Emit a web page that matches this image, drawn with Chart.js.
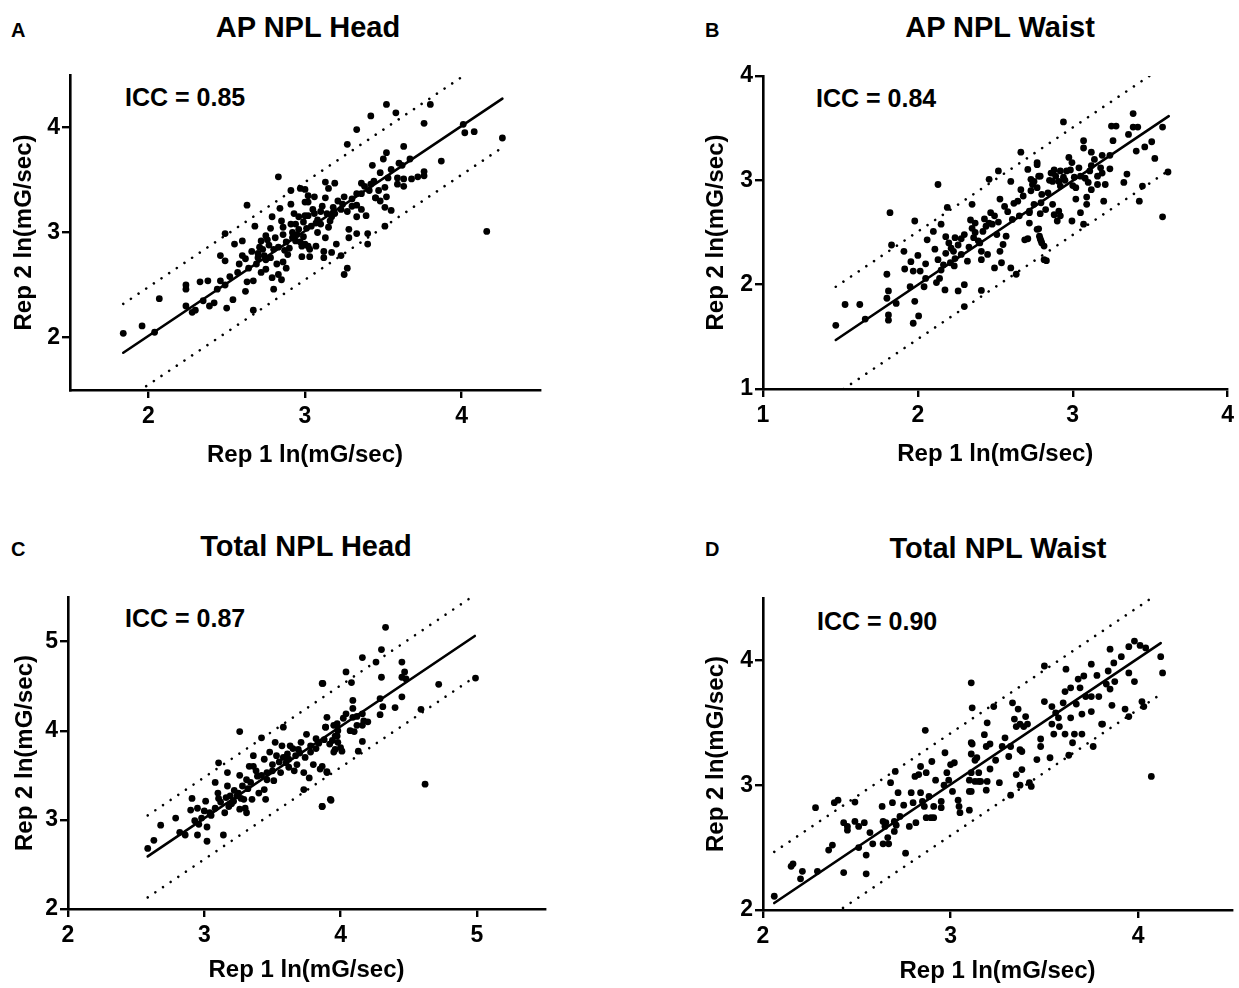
<!DOCTYPE html>
<html>
<head>
<meta charset="utf-8">
<script src="https://cdn.jsdelivr.net/npm/chart.js@4.4.1/dist/chart.umd.min.js"></script>
<style>
  body { margin: 0; background: #fff; width: 1239px; height: 988px; position: relative; overflow: hidden;
         font-family: "Liberation Sans", Arial, sans-serif; color: #000; }
  canvas { position: absolute; }
  .letter { position: absolute; font-weight: bold; font-size: 20px; line-height: 20px; }
  .title  { position: absolute; font-weight: bold; font-size: 29px; line-height: 29px; width: 400px; text-align: center; }
  .icc    { position: absolute; font-weight: bold; font-size: 25px; line-height: 25px; white-space: nowrap; }
</style>
</head>
<body>

<div class="letter" style="left:11px;top:20px">A</div>
<div class="title" style="left:108px;top:13px">AP NPL Head</div>
<div class="icc" style="left:125px;top:85px">ICC = 0.85</div>
<canvas id="chart-a" width="560" height="450" style="left:0;top:50px"></canvas>

<div class="letter" style="left:705px;top:20px">B</div>
<div class="title" style="left:800px;top:13px">AP NPL Waist</div>
<div class="icc" style="left:816px;top:86px">ICC = 0.84</div>
<canvas id="chart-b" width="549" height="450" style="left:690px;top:50px"></canvas>

<div class="letter" style="left:11px;top:539px">C</div>
<div class="title" style="left:106px;top:532px">Total NPL Head</div>
<div class="icc" style="left:125px;top:606px">ICC = 0.87</div>
<canvas id="chart-c" width="560" height="418" style="left:0;top:570px"></canvas>

<div class="letter" style="left:705px;top:539px">D</div>
<div class="title" style="left:798px;top:534px">Total NPL Waist</div>
<div class="icc" style="left:817px;top:609px">ICC = 0.90</div>
<canvas id="chart-d" width="549" height="418" style="left:690px;top:570px"></canvas>

<script>
// === DATA (ln mG/sec, rep 1 vs rep 2) ===

const apHead = [
  [1.84,2.04],[1.96,2.11],[2.04,2.05],[2.07,2.37],[2.24,2.30],[2.24,2.50],[2.24,2.46],[2.28,2.24],[2.30,2.26],
  [2.33,2.53],[2.38,2.54],[2.35,2.35],[2.39,2.30],[2.42,2.33],[2.44,2.46],[2.46,2.54],[2.49,2.50],[2.50,2.28],
  [2.54,2.36],[2.46,2.78],[2.49,2.73],[2.49,2.99],[2.55,2.89],[2.58,2.70],[2.62,2.75],[2.63,2.53],[2.62,2.44],
  [2.67,2.54],[2.67,2.26],[2.63,3.26],[2.68,3.06],[2.60,2.92],[2.66,2.82],[2.72,2.92],[2.73,2.84],[2.75,2.74],
  [2.75,2.65],[2.79,2.57],[2.80,2.46],[2.83,2.60],[2.85,2.55],[2.75,2.97],[2.78,3.04],[2.79,3.15],[2.84,3.23],
  [2.85,3.11],[2.86,2.98],[2.83,2.86],[2.87,2.83],[2.88,2.91],[2.89,2.79],[2.91,3.08],[2.91,3.27],[2.91,3.40],
  [2.97,3.42],[3.00,3.29],[2.93,3.18],[2.96,3.15],[2.95,2.98],[2.97,2.91],[2.98,2.87],[3.01,3.04],[3.02,3.16],
  [3.02,3.35],[2.83,3.53],[3.03,2.84],[2.98,2.77],[2.94,3.08],[2.70,2.80],[2.77,2.88],[2.81,2.95],[2.86,3.05],
  [2.92,2.95],[2.69,2.70],[2.72,2.62],[2.57,2.62],[2.52,2.58],
  [2.70,2.76],[2.74,2.78],[2.78,2.76],[2.71,2.86],[2.76,2.93],[2.80,2.84],[2.82,2.70],[2.86,2.72],[2.88,2.66],
  [2.90,2.85],[2.92,3.00],[2.94,2.92],[2.96,3.03],[2.99,3.10],[2.99,2.96],[3.05,3.22],[3.08,3.12],[3.10,3.20],
  [3.14,3.18],[3.18,3.24],[3.21,3.30],[3.25,3.34],[3.27,3.20],[3.30,3.25],[3.38,3.44],[3.42,3.46],[3.47,3.40],
  [3.55,3.60],[2.64,2.66],[2.60,2.78],
  [3.52,4.22],[3.42,4.11],[3.58,4.14],[3.80,4.22],[3.76,4.04],[3.33,3.98],[3.27,3.84],[3.63,3.82],[3.52,3.76],
  [3.50,3.70],[3.43,3.64],[3.60,3.66],[3.62,3.64],[3.67,3.70],[3.48,3.57],[3.44,3.49],[3.53,3.52],[3.59,3.52],
  [3.63,3.51],[3.68,3.51],[3.72,3.53],[3.76,3.58],[3.76,3.54],[3.59,3.46],[3.63,3.44],[3.51,3.43],[3.52,3.34],
  [3.45,3.33],[3.48,3.30],[3.51,3.24],[3.55,3.21],[3.51,3.06],[3.87,3.68],[4.01,4.03],[4.02,3.95],[4.08,3.96],
  [4.26,3.90],[4.16,3.01],[3.36,3.47],[3.33,3.37],[3.30,3.32],[3.24,3.27],[3.23,3.22],[3.18,3.19],[3.17,3.15],
  [3.36,3.22],[3.39,3.16],[3.33,3.15],[3.41,3.40],[3.40,2.99],[3.40,2.89],[3.28,3.03],[3.28,2.95],[3.33,2.99],
  [3.23,2.78],[3.27,2.66],[3.25,2.60],[3.20,2.89],[3.17,2.81],[3.13,2.95],[3.12,2.82],[3.12,2.76],[3.07,2.87],
  [3.03,2.77],[3.02,2.87],[3.08,3.00],[3.10,3.08],[3.15,3.05],[3.16,3.11],[3.19,3.18],[3.06,3.18],[3.07,3.09],
  [3.04,3.06],[3.02,3.29],[3.13,3.48],[3.15,3.42],[3.19,3.47],[3.13,3.33],[3.11,3.25],[3.06,3.34],[3.00,3.41],
  [3.00,3.16],[3.00,2.89],[3.36,3.37],[3.45,3.33],[3.33,3.26]
];

const apWaist = [
  [1.47,1.61],[1.53,1.81],[1.625,1.81],[1.66,1.67],[1.80,2.10],[1.82,2.69],[1.83,2.38],[1.81,1.94],[1.80,1.87],
  [1.81,1.71],[1.81,1.66],[1.86,1.82],[1.91,2.32],[1.915,2.15],[1.955,2.22],[1.97,2.13],[1.98,2.61],[1.98,1.84],
  [2.005,1.70],[1.97,1.63],[2.015,2.13],[1.95,1.98],[2.05,2.06],[2.04,1.98],[2.06,2.43],[2.10,2.51],[2.13,2.96],
  [2.11,2.34],[2.13,2.24],[2.12,2.02],[2.14,2.06],[2.15,2.14],[2.165,2.19],[2.15,2.58],[2.19,2.74],[2.18,2.46],
  [2.175,1.95],[2.215,2.35],[2.21,2.21],[2.23,2.32],[2.24,2.25],[2.235,2.18],[2.24,2.45],[2.26,1.94],[2.28,2.29],
  [2.30,2.00],[2.30,1.79],[2.32,2.225],[2.30,2.48],[2.35,2.77],[2.34,2.62],[2.37,2.59],[2.36,2.45],[2.39,2.42],
  [2.37,2.50],[2.41,2.24],[2.41,1.945],[2.42,2.51],[2.41,2.32],[2.44,2.56],[2.45,2.29],[2.46,2.59],[2.47,2.69],
  [2.495,2.66],[2.46,3.01],[2.52,3.09],[2.51,2.48],[2.495,2.16],[2.53,2.32],[2.54,2.21],[2.55,2.385],[2.53,2.82],
  [2.56,2.75],[2.57,2.465],[2.60,2.99],[2.60,2.16],[2.635,2.10],[2.61,2.625],[2.645,2.80],[2.655,2.66],
  [2.665,2.91],[2.665,3.27],[2.71,3.105],[2.72,2.69],[2.73,3.01],[2.77,3.17],[2.77,2.93],[2.78,3.04],[2.77,2.53],
  [2.785,2.465],[2.795,2.42],[2.815,2.24],[2.795,2.785],[2.72,2.59],[2.69,2.43],
  [2.18,2.30],[2.20,2.40],[2.26,2.38],[2.28,2.44],[2.33,2.36],[2.35,2.54],[2.40,2.40],[2.43,2.63],[2.48,2.58],
  [2.52,2.60],[2.58,2.70],[2.62,2.78],[2.68,2.85],[2.85,3.00],[2.88,3.10],[2.95,3.00],[3.00,2.95],[3.04,3.12],
  [3.08,3.02],[3.14,3.20],[3.18,3.12],[2.05,2.20],[2.00,2.28],
  [2.94,3.56],[3.39,3.64],[3.25,3.52],[3.28,3.52],[3.39,3.51],[3.42,3.51],[3.58,3.51],[3.36,3.44],[3.26,3.38],
  [3.07,3.38],[3.07,3.31],[3.12,3.27],[3.19,3.24],[3.24,3.24],[3.41,3.28],[3.465,3.32],[3.51,3.37],[3.53,3.21],
  [3.615,3.08],[3.58,2.65],[3.45,2.945],[3.43,2.80],[3.35,3.06],[3.33,2.98],[3.24,3.11],[3.21,2.96],[3.20,2.80],
  [3.19,3.07],[3.16,3.04],[3.16,2.96],[3.12,2.91],[3.12,3.14],[3.11,3.09],[3.10,2.98],[3.09,2.84],[3.09,2.77],
  [3.07,2.58],[3.05,2.69],[3.05,3.04],[3.02,2.82],[3.02,2.93],[2.995,2.61],[3.01,3.03],[2.985,3.10],[2.975,3.22],
  [2.995,3.17],[2.96,3.09],[2.94,3.03],[2.92,3.09],[2.91,2.99],[2.92,2.945],[2.89,3.04],[2.87,2.99],[2.86,3.07],
  [2.84,2.88],[2.87,2.77],[2.88,2.67],[2.91,2.705],[2.90,2.61],[2.92,2.66],[2.825,2.72],[2.80,2.865],[2.79,3.04],
  [2.77,3.15],[2.75,2.99],[2.74,2.96],[2.73,2.90],[2.75,2.77],[2.72,2.705],[2.79,2.68],[2.78,2.535],[2.71,2.44],
  [2.79,2.44],[2.80,2.40],[2.815,2.37],[2.83,2.23]
];

const totalHead = [
  [2.585,2.68],[2.63,2.77],[2.68,2.94],[2.79,3.02],[2.82,2.86],[2.86,2.83],[2.90,3.11],[2.91,3.24],[2.93,2.99],
  [2.95,3.13],[2.95,2.83],[2.98,3.02],[3.01,3.21],[3.02,2.92],[3.02,2.76],[3.04,3.08],[3.08,3.42],[3.08,3.13],
  [3.105,3.64],[3.105,3.24],[3.14,2.83],[3.15,3.08],[3.17,3.53],[3.17,3.38],[3.18,3.15],[3.19,3.27],[3.215,3.21],
  [3.24,3.27],[3.25,3.30],[3.26,3.99],[3.28,3.38],[3.26,3.12],[3.29,3.23],[3.30,3.13],[3.31,3.45],[3.31,3.08],
  [3.33,3.60],[3.35,3.23],[3.36,3.72],[3.39,3.49],[3.40,3.30],[3.42,3.92],[3.44,3.34],[3.45,3.23],[3.46,3.53],
  [3.48,3.76],[3.50,3.62],[3.51,3.44],[3.52,3.87],[3.53,3.72],[3.56,3.53],[3.57,3.83],[3.58,4.04],[3.60,3.64],
  [3.61,3.74],[3.62,3.59],[3.63,3.83],[3.66,3.55],[3.67,3.72],[3.69,3.79],[3.71,3.87],[3.73,3.53],[3.73,3.34],
  [3.75,3.96],[3.77,3.47],[3.78,3.83],[3.80,3.62],[3.82,3.91],[3.85,3.57],[3.865,3.15],[3.865,4.53],[3.89,4.04],
  [3.90,3.53],[3.925,3.23],
  [3.12,3.20],[3.16,3.25],[3.20,3.18],[3.22,3.33],[3.27,3.24],[3.32,3.35],[3.34,3.42],[3.38,3.55],[3.42,3.50],
  [3.46,3.45],[3.50,3.55],[3.55,3.65],[3.58,3.70],[3.62,3.68],[3.65,3.80],[3.68,3.62],[3.70,3.75],[3.74,3.70],
  [3.78,3.76],[3.82,3.80],[3.84,3.86],[3.88,3.90],[3.92,3.85],[3.05,3.05],[3.00,3.10],[2.96,2.95],[3.10,3.30],
  [3.26,3.50],[3.36,3.60],[3.44,3.68],
  [4.33,5.16],[4.30,4.91],[4.16,4.82],[4.26,4.77],[4.45,4.77],[4.47,4.66],[4.45,4.60],[4.48,4.58],[4.30,4.60],
  [4.04,4.66],[4.08,4.54],[3.87,4.53],[4.72,4.52],[4.99,4.59],[4.45,4.38],[4.29,4.36],[4.40,4.26],[4.31,4.27],
  [4.29,4.18],[4.09,4.34],[4.09,4.25],[4.04,4.19],[4.02,4.14],[4.09,4.15],[4.12,4.16],[4.16,4.19],[4.17,4.11],
  [4.20,4.10],[4.16,4.06],[3.90,4.15],[3.89,4.04],[3.97,4.06],[3.98,4.00],[4.12,4.06],[4.07,4.00],[4.10,3.99],
  [3.96,3.94],[3.94,3.89],[3.98,3.87],[3.96,3.79],[4.00,3.81],[3.95,3.76],[4.01,3.77],[4.16,3.88],[4.13,3.77],
  [4.59,4.24],[3.865,3.60],[3.90,3.54],[4.62,3.40],[3.93,3.22],[3.865,3.15],[3.95,4.06],[3.975,3.94],[3.975,4.08]
];

const totalWaist = [
  [2.06,2.11],[2.15,2.35],[2.16,2.37],[2.20,2.25],[2.21,2.31],[2.28,2.82],[2.29,2.31],[2.35,2.48],[2.37,2.52],
  [2.38,2.86],[2.40,2.88],[2.43,2.30],[2.43,2.70],[2.45,2.64],[2.45,2.67],[2.49,2.865],[2.49,2.71],[2.51,2.67],
  [2.54,2.70],[2.51,2.50],[2.55,2.44],[2.55,2.29],[2.57,2.62],[2.585,2.53],[2.635,2.83],[2.64,2.71],[2.65,2.67],
  [2.64,2.53],[2.655,2.70],[2.665,2.58],[2.67,2.53],[2.68,3.02],[2.69,2.86],[2.70,2.71],[2.70,2.63],[2.71,2.68],
  [2.705,3.11],[2.72,2.94],[2.73,2.75],[2.75,2.84],[2.76,2.455],[2.78,2.67],[2.79,2.94],[2.80,2.86],[2.81,3.07],
  [2.815,2.70],[2.83,3.085],[2.84,3.15],[2.84,2.94],[2.85,2.87],[2.86,2.83],[2.865,3.44],[2.87,3.10],[2.87,2.74],
  [2.885,2.91],[2.895,2.74],[2.90,3.19],[2.91,2.83],[2.91,2.74],[2.92,3.04],[2.95,2.82],[2.95,2.87],[2.965,3.00],
  [2.97,3.26],[2.98,3.10],[2.99,3.04],[3.00,3.165],[3.01,2.95],[3.02,3.18],[3.04,2.88],[3.045,2.83],[3.05,2.78],
  [3.10,2.80],[3.10,2.95],[3.10,3.04],[3.11,3.25],[3.11,3.34],[3.115,3.33],[3.115,3.62],[3.11,3.82],[3.13,3.20],
  [3.13,3.03],[3.15,3.03],[3.15,3.10],[3.18,3.405],[3.19,3.31],[3.195,3.50],[3.195,3.03],[3.19,2.96],
  [3.14,3.22],[3.11,3.10],[3.16,3.03],[3.11,2.95],[3.21,3.33],[3.21,3.13],[3.23,3.63],[3.24,3.20],[3.26,3.02],
  [3.275,3.31],[3.29,3.38],[3.31,3.23],[3.32,3.31],[3.32,2.92],[3.33,3.66],[3.34,3.53],[3.35,3.47],[3.35,3.085],
  [3.36,3.61],[3.37,3.285],[3.37,3.49],[3.37,3.00],[3.38,3.125],[3.38,3.27],[3.39,3.47],[3.40,3.55],[3.41,3.49],
  [3.42,3.02],[3.43,2.99],[3.46,3.205],[3.48,3.31],[3.48,3.37],[3.50,3.955],[3.50,3.67],[3.53,3.22],[3.54,3.49],
  [3.54,3.63],[3.55,3.41],[3.56,3.58],[3.575,3.54],[3.58,3.47],[3.60,3.66],[3.61,3.75],[3.61,3.41],[3.615,3.93],
  [3.63,3.24],[3.64,3.54],[3.64,3.78],[3.65,3.34],[3.66,3.41],[3.67,3.65],[3.68,3.85],[3.69,3.78],[3.70,3.57],
  [3.70,3.41],[3.71,3.875],[3.72,3.71],[3.75,3.97],[3.75,3.71],[3.75,3.59],[3.76,3.31],[3.78,3.88],[3.79,3.71],
  [3.805,3.49],[3.81,3.49],[3.83,3.81],[3.84,3.915],[3.85,4.09],[3.85,3.77],[3.86,3.64],[3.87,3.98],[3.875,3.83],
  [3.91,4.03],[3.93,3.61],[3.95,3.90],[3.95,4.11],[3.95,3.55],[3.98,4.155],[3.98,3.83],[4.01,4.12],[4.02,3.67],
  [4.03,3.63],[4.04,4.10],[4.07,3.07],[4.12,4.03],[4.13,3.90]
];

// regression line and dotted bands: x ends, then y at those ends
const apHeadLineX    = [1.84, 4.26];
const apHeadFit      = [1.855, 4.275];
const apHeadUpper    = [2.32, 4.74];
const apHeadLower    = [1.39, 3.81];

const apWaistLineX   = [1.47, 3.62];
const apWaistFit     = [1.47, 3.615];
const apWaistUpper   = [1.98, 4.125];
const apWaistLower   = [0.95, 3.095];

const totalHeadLineX = [2.585, 4.985];
const totalHeadFit   = [2.59, 5.063];
const totalHeadUpper = [3.05, 5.523];
const totalHeadLower = [2.13, 4.603];

const totalWaistLineX = [2.06, 4.12];
const totalWaistFit   = [2.056, 4.139];
const totalWaistUpper = [2.466, 4.549];
const totalWaistLower = [1.646, 3.729];

const ticksA = [2, 3, 4];
const ticksB = [1, 2, 3, 4];
const ticksC = [2, 3, 4, 5];
const ticksD = [2, 3, 4];

// === CHART BUILDER ===

const FONT = "'Liberation Sans', Arial, sans-serif";

const toXY = (xs, ys) => xs.map((x, i) => ({ x, y: ys[i] }));

const lineSet = (data, width, dash) => ({
  data,
  showLine: true,
  pointRadius: 0,
  borderColor: "#000",
  borderWidth: width,
  borderDash: dash,
  borderCapStyle: "round",
});

const buildPanel = (id, pts, lineX, fit, upper, lower, range, xTicks, yTicks, geo) => {
  const axis = (ticks, isX) => ({
    type: "linear",
    min: isX ? range.xMin : range.yMin,
    max: isX ? range.xMax : range.yMax,
    afterBuildTicks: (s) => { s.ticks = ticks.map((v) => ({ value: v })); },
    afterFit: (s) => { if (isX) s.height = geo.xh; else s.width = geo.yw; },
    border: { display: true, color: "#000", width: 2.6 },
    grid: { drawOnChartArea: false, color: "#000", lineWidth: 2.4, tickLength: 8 },
    ticks: {
      color: "#000",
      padding: isX ? 5 : 2,
      autoSkip: false,
      maxRotation: 0,
      font: { family: FONT, size: 23, weight: "bold" },
    },
    title: {
      display: true,
      text: isX ? "Rep 1 ln(mG/sec)" : "Rep 2 ln(mG/sec)",
      color: "#000",
      font: { family: FONT, size: 24, weight: "bold" },
      padding: isX ? { top: 0, bottom: geo.xtp } : { top: geo.ytp, bottom: 0 },
    },
  });

  new Chart(document.getElementById(id), {
    type: "scatter",
    data: {
      datasets: [
        lineSet(toXY(lineX, fit), 2.6, []),
        lineSet(toXY(lineX, upper), 2.6, [0.01, 9.2]),
        lineSet(toXY(lineX, lower), 2.6, [0.01, 9.2]),
        {
          data: pts.map(([x, y]) => ({ x, y })),
          pointRadius: 3.4,
          pointBackgroundColor: "#000",
          pointBorderWidth: 0,
        },
      ],
    },
    options: {
      responsive: false,
      animation: false,
      events: [],
      layout: { padding: { left: 0, top: geo.top, right: geo.right, bottom: 0 } },
      plugins: { legend: { display: false }, tooltip: { enabled: false } },
      scales: { x: axis(xTicks, true), y: axis(yTicks, false) },
    },
  });
};

buildPanel("chart-a", apHead, apHeadLineX, apHeadFit, apHeadUpper, apHeadLower,
  { xMin: 1.5, xMax: 4.5, yMin: 1.5, yMax: 4.5 }, ticksA, ticksA,
  { top: 25, right: 20, yw: 70, xh: 110, ytp: 10, xtp: 30 });

buildPanel("chart-b", apWaist, apWaistLineX, apWaistFit, apWaistUpper, apWaistLower,
  { xMin: 1, xMax: 4, yMin: 1, yMax: 4 }, ticksB, ticksB,
  { top: 26, right: 7, yw: 73, xh: 111, ytp: 12, xtp: 31 });

buildPanel("chart-c", totalHead, totalHeadLineX, totalHeadFit, totalHeadUpper, totalHeadLower,
  { xMin: 2, xMax: 5.5, yMin: 2, yMax: 5.5 }, ticksC, ticksC,
  { top: 27, right: 15, yw: 68, xh: 79, ytp: 11, xtp: 3 });

buildPanel("chart-d", totalWaist, totalWaistLineX, totalWaistFit, totalWaistUpper, totalWaistLower,
  { xMin: 2, xMax: 4.5, yMin: 2, yMax: 4.5 }, ticksD, ticksD,
  { top: 28, right: 7, yw: 73, xh: 78, ytp: 12, xtp: 2 });
</script>
</body>
</html>
